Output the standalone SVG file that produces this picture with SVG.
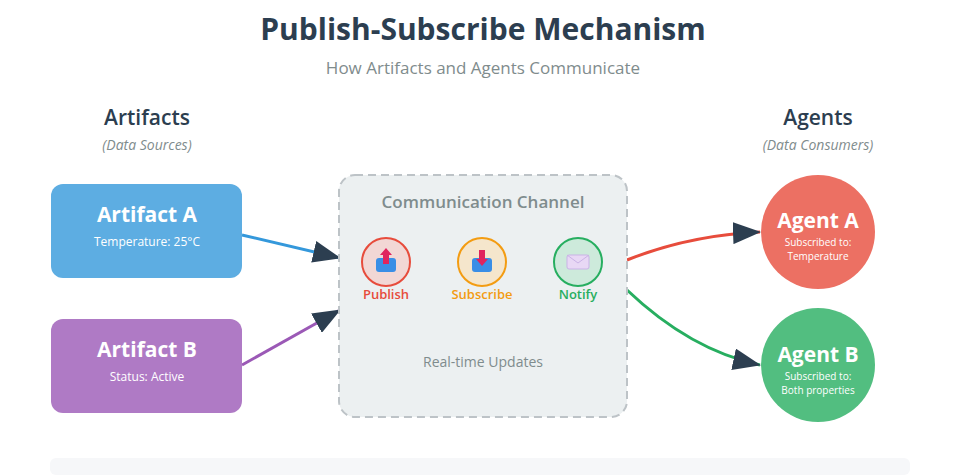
<svg xmlns="http://www.w3.org/2000/svg" width="971" height="475" viewBox="0 0 971 475">
<style>
text{font-family:"Open Sans","Noto Sans",sans-serif;}
.t{font-weight:700;fill:#2c3e50;text-anchor:middle}
.h{font-size:21px;font-weight:600;fill:#2c3e50;text-anchor:middle}
.sub{font-size:14px;font-style:italic;fill:#7f8c8d;text-anchor:middle}
.nt{font-size:21px;font-weight:700;fill:#fff;text-anchor:middle}
.ns{font-size:12px;fill:#fff;text-anchor:middle}
.as{font-size:10px;fill:#fff;text-anchor:middle}
.lbl{font-size:13px;font-weight:600;text-anchor:middle}
.c{fill:none;stroke-width:3}
</style>
<defs>
<marker id="a" viewBox="0 0 28 22" refX="27" refY="11" markerWidth="28" markerHeight="22" markerUnits="userSpaceOnUse" orient="auto">
<path d="M0,0 L28,11 L0,22 z" fill="#2c3e50"/>
</marker>
</defs>
<rect width="971" height="475" fill="#fff"/>
<text x="483" y="40" class="t" font-size="30">Publish-Subscribe Mechanism</text>
<text x="483" y="74" font-size="17" fill="#7f8c8d" text-anchor="middle">How Artifacts and Agents Communicate</text>
<text x="147" y="125" class="h">Artifacts</text>
<text x="147" y="150" class="sub">(Data Sources)</text>
<text x="818" y="125" class="h">Agents</text>
<text x="818" y="150" class="sub">(Data Consumers)</text>
<rect x="50" y="458" width="860" height="17" rx="6" fill="#f6f7f9"/>
<g id="connectors">
<path class="c" d="M242,235 L340,258" stroke="#3498db" marker-end="url(#a)"/>
<path class="c" d="M242,365 L340,310" stroke="#9b59b6" marker-end="url(#a)"/>
<path class="c" d="M627,260 Q690,235 760,232" stroke="#e74c3c" marker-end="url(#a)"/>
<path class="c" d="M627,290 Q690,350 760,365" stroke="#27ae60" marker-end="url(#a)"/>
</g>
<g id="artifactA">
<rect x="51" y="184" width="191" height="94" rx="12" fill="#5dade2"/>
<text x="147" y="222" class="nt">Artifact A</text>
<text x="147" y="246" class="ns">Temperature: 25°C</text>
</g>
<g id="artifactB">
<rect x="51" y="319" width="191" height="94" rx="12" fill="#af7ac5"/>
<text x="147" y="357" class="nt">Artifact B</text>
<text x="147" y="381" class="ns">Status: Active</text>
</g>
<g id="channel">
<rect x="339" y="175" width="288" height="242" rx="16" fill="#ecf0f1" stroke="#bdc3c7" stroke-width="2" stroke-dasharray="8 5"/>
<text x="483" y="208" font-size="17" font-weight="600" fill="#7f8c8d" text-anchor="middle">Communication Channel</text>
<text x="483" y="367" font-size="14" fill="#7f8c8d" text-anchor="middle">Real-time Updates</text>
</g>
<g id="publish">
<circle cx="386" cy="262" r="24" fill="#f2d7d5" stroke="#e74c3c" stroke-width="2"/>
<rect x="376" y="258" width="20" height="14" rx="3" fill="#3a8ee6"/>
<path d="M386,248 L392,255 L389,255 L389,264 L383,264 L383,255 L380,255 z" fill="#e0245e"/>
<text x="386" y="299" class="lbl" fill="#e74c3c">Publish</text>
</g>
<g id="subscribe">
<circle cx="482" cy="262" r="24" fill="#f5e6cc" stroke="#f39c12" stroke-width="2"/>
<rect x="472" y="258" width="20" height="14" rx="3" fill="#3a8ee6"/>
<path d="M482,266 L488,259 L485,259 L485,250 L479,250 L479,259 L476,259 z" fill="#e0245e"/>
<text x="482" y="299" class="lbl" fill="#f39c12">Subscribe</text>
</g>
<g id="notify">
<circle cx="578" cy="262" r="24" fill="#cdeadb" stroke="#27ae60" stroke-width="2"/>
<rect x="567" y="255" width="22" height="14" rx="2" fill="#e8d8f5" stroke="#c9b3e6"/>
<path d="M567,255 L578,263 L589,255" fill="none" stroke="#c9b3e6"/>
<text x="578" y="299" class="lbl" fill="#27ae60">Notify</text>
</g>
<g id="agentA">
<circle cx="818" cy="232" r="57" fill="#ec7063"/>
<text x="818" y="228" class="nt">Agent A</text>
<text x="818" y="246" class="as">Subscribed to:</text>
<text x="818" y="260" class="as">Temperature</text>
</g>
<g id="agentB">
<circle cx="818" cy="365" r="57" fill="#52be80"/>
<text x="818" y="362" class="nt">Agent B</text>
<text x="818" y="380" class="as">Subscribed to:</text>
<text x="818" y="394" class="as">Both properties</text>
</g>
</svg>
